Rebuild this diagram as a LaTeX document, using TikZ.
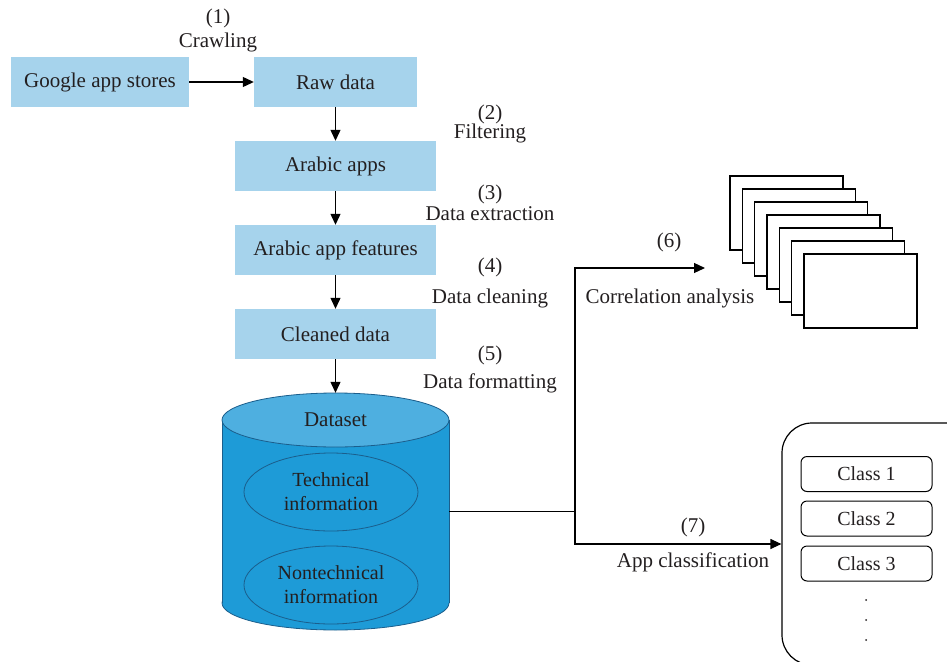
\documentclass[tikz,border=0pt]{standalone}
\usepackage{fontspec}
\setmainfont{Liberation Serif}
\usetikzlibrary{arrows.meta}
\usetikzlibrary{shapes.geometric}
\usetikzlibrary{positioning}
\definecolor{boxblue}{HTML}{A6D3EC}
\definecolor{cylbody}{HTML}{1E9BD7}
\definecolor{cyltop}{HTML}{4EAFE0}
\definecolor{cylline}{HTML}{1B5E8C}
\definecolor{inkgray}{HTML}{231F20}

\begin{document}
\begin{tikzpicture}[x=1pt, y=-1pt, font=\fontsize{21}{24}\selectfont, text=inkgray,
  >={Triangle[length=11pt,width=10pt]},
  stepbox/.style={fill=boxblue, inner sep=0pt, minimum height=50pt},
  lbl/.style={inner sep=0pt, align=center},
  flow/.style={line width=1.2pt, ->},
  classbox/.style={draw, line width=1pt, rounded corners=6pt, minimum width=131pt, minimum height=35pt, inner sep=0pt, font=\fontsize{20}{24}\selectfont},
  infoellipse/.style={ellipse, draw=cylline, line width=0.8pt, minimum width=174pt, minimum height=78pt, inner sep=0pt, align=center, font=\fontsize{20}{24}\selectfont}]
\useasboundingbox (0,0) rectangle (947,661);

\node[stepbox, minimum width=178pt] (google) at (100,82) {Google app stores};
\node[stepbox, minimum width=163pt] (raw) at (335.5,82) {Raw data};
\node[stepbox, minimum width=201pt] (arabic) at (335.5,166) {Arabic apps};
\node[stepbox, minimum width=201pt] (features) at (335.5,250) {Arabic app features};
\node[stepbox, minimum width=201pt] (cleaned) at (335.5,334) {Cleaned data};

\draw[flow] (google) -- (raw);
\draw[flow] (raw) -- (arabic);
\draw[flow] (arabic) -- (features);
\draw[flow] (features) -- (cleaned);

\node[lbl] (s1) at (218,30) {(1)\\Crawling};
\node[lbl] (s2) at (490,124) {(2)\\[-5pt]Filtering};
\node[lbl] (s3) at (490,202.5) {(3)\\[-3pt]Data extraction};
\node[lbl] (s4) at (490,267) {(4)};
\node[lbl] (s4t) at (490,298) {Data cleaning};
\node[lbl] (s5) at (490,355) {(5)};
\node[lbl] (s5t) at (490,383) {Data formatting};

\filldraw[fill=cylbody, draw=cylline, line width=0.8pt] (335.5,603) ellipse[x radius=113.5, y radius=27];
\fill[cylbody] (222,420) rectangle (449,603);
\draw[cylline, line width=0.8pt] (222,420) -- (222,603);
\draw[cylline, line width=0.8pt] (449,420) -- (449,603);
\filldraw[fill=cyltop, draw=cylline, line width=0.8pt] (335.5,420) ellipse[x radius=113.5, y radius=27];
\node[inner sep=0pt, minimum width=227pt, minimum height=237pt] (db) at (335.5,511.5) {};
\node[lbl] (dbname) at (335.5,420) {Dataset};
\node[infoellipse] (tech) at (331,492) {Technical\\information};
\node[infoellipse] (nontech) at (331,585) {Nontechnical\\information};

\draw[flow] (cleaned) -- (db.north);

\foreach \i in {0,...,6}
  \draw[line width=1.2pt, fill=white] (730+12.33*\i, 176+13*\i) rectangle ++(113,74);

\node[draw, line width=1.2pt, rounded corners=30pt, minimum width=200pt, minimum height=242pt, inner sep=0pt] (classes) at (882,544) {};
\node[classbox] (c1) at (866.5,474) {Class 1};
\node[classbox] (c2) at (866.5,518.5) {Class 2};
\node[classbox] (c3) at (866.5,563.5) {Class 3};
\foreach \y in {600,620,640}
  \fill[inkgray] (866,\y) circle (1pt);

\coordinate (split) at (575,511.5);
\coordinate (corr) at (705,268);
\draw[line width=1.2pt] (db.east) -- (split);
\draw[flow] (split) |- (corr);
\draw[flow] (split) |- (classes.west);

\node[lbl] (s6) at (669,242) {(6)};
\node[lbl] (s6t) at (670,298) {Correlation analysis};
\node[lbl] (s7) at (693,527) {(7)};
\node[lbl] (s7t) at (693,562) {App classification};
\end{tikzpicture}
\end{document}
